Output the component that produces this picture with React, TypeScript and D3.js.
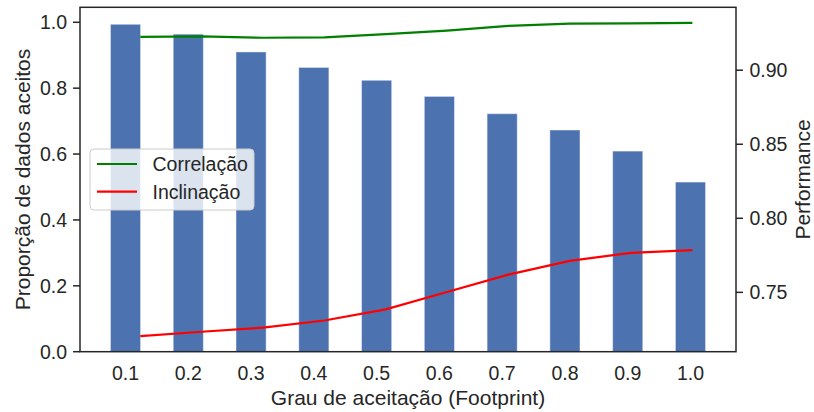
import React from "react";
import * as d3 from "d3";

const categories = ["0.1", "0.2", "0.3", "0.4", "0.5", "0.6", "0.7", "0.8", "0.9", "1.0"];
const proportion = [0.994, 0.964, 0.910, 0.863, 0.824, 0.775, 0.7225, 0.673, 0.609, 0.515];
const correlacao = [0.9225, 0.9228, 0.9219, 0.9221, 0.9243, 0.9267, 0.9299, 0.9314, 0.9316, 0.9319];
const inclinacao = [0.7205, 0.7234, 0.7262, 0.7310, 0.7385, 0.7502, 0.7620, 0.7713, 0.7767, 0.7785];
const leftTicks = [0.0, 0.2, 0.4, 0.6, 0.8, 1.0];
const rightTicks = [0.75, 0.8, 0.85, 0.9];

const W = 814, H = 412;
const M = { left: 80, right: 736, top: 7.3, bottom: 351.7 };
const INK = "#262626";
const FONT = "'Liberation Sans', Arial, sans-serif";

export default function App() {
  const x = d3.scaleLinear().domain([-0.725, 9.725]).range([M.left, M.right]);
  const yL = d3.scaleLinear().domain([0, 1.0455]).range([M.bottom, M.top]);
  const all = [...correlacao, ...inclinacao];
  const lo = d3.min(all)!, hi = d3.max(all)!;
  const pad = (hi - lo) * 0.05;
  const yR = d3.scaleLinear().domain([lo - pad, hi + pad]).range([M.bottom, M.top]);
  const lineIdx = d3.scaleLinear().domain([0, 9]).range([0.236, 9.03]);
  const bw = 0.48;
  const lineGen = (vals: number[]) =>
    d3.line<number>().x((_, i) => x(lineIdx(i))).y((v) => yR(v))(vals) || "";

  return (
    <svg width={W} height={H} style={{ position: "absolute", left: 0, top: 0, fontFamily: FONT }}>
      <rect x={0} y={0} width={W} height={H} fill="#fff" />
      {proportion.map((v, i) => (
        <rect key={i} x={x(i - bw / 2)} y={yL(v)} width={x(bw) - x(0)} height={yL(0) - yL(v)}
          fill="#4C72B0" stroke="#ffffff" strokeOpacity={0.45} strokeWidth={1} />
      ))}
      <path d={lineGen(correlacao)} fill="none" stroke="#008000" strokeWidth={2.2} />
      <path d={lineGen(inclinacao)} fill="none" stroke="#ff0000" strokeWidth={2.2} />
      <rect x={M.left} y={M.top} width={M.right - M.left} height={M.bottom - M.top} fill="none" stroke={INK} strokeWidth={1.5} />
      {leftTicks.map((t) => (
        <g key={t}>
          <line x1={M.left - 7} x2={M.left} y1={yL(t)} y2={yL(t)} stroke={INK} strokeWidth={1.5} />
          <text x={M.left - 13} y={yL(t)} dy="0.35em" textAnchor="end" fontSize={19.5} fill={INK}>{t.toFixed(1)}</text>
        </g>
      ))}
      {rightTicks.map((t) => (
        <g key={t}>
          <line x1={M.right} x2={M.right + 7} y1={yR(t)} y2={yR(t)} stroke={INK} strokeWidth={1.5} />
          <text x={M.right + 13.5} y={yR(t)} dy="0.35em" textAnchor="start" fontSize={19.5} fill={INK}>{t.toFixed(2)}</text>
        </g>
      ))}
      {categories.map((c, i) => (
        <text key={c} x={x(i)} y={373} dy="0.35em" textAnchor="middle" fontSize={19.5} fill={INK}>{c}</text>
      ))}
      <text x={(M.left + M.right) / 2} y={398} dy="0.35em" textAnchor="middle" fontSize={21} fill={INK}>Grau de aceitação (Footprint)</text>
      <text transform={`translate(23,${(M.top + M.bottom) / 2}) rotate(-90)`} dy="0.35em" textAnchor="middle" fontSize={21} fill={INK}>Proporção de dados aceitos</text>
      <text transform={`translate(803,${(M.top + M.bottom) / 2}) rotate(-90)`} dy="0.35em" textAnchor="middle" fontSize={21} fill={INK}>Performance</text>
      <g>
        <rect x={90} y={149} width={164} height={61} rx={4} fill="#fff" fillOpacity={0.8} stroke="#cccccc" strokeWidth={1} />
        <line x1={97} x2={137} y1={164} y2={164} stroke="#008000" strokeWidth={2.2} />
        <line x1={97} x2={137} y1={191.7} y2={191.7} stroke="#ff0000" strokeWidth={2.2} />
        <text x={152.5} y={164} dy="0.35em" fontSize={19.5} fill={INK}>Correlação</text>
        <text x={152.5} y={191.7} dy="0.35em" fontSize={19.5} fill={INK}>Inclinação</text>
      </g>
    </svg>
  );
}
